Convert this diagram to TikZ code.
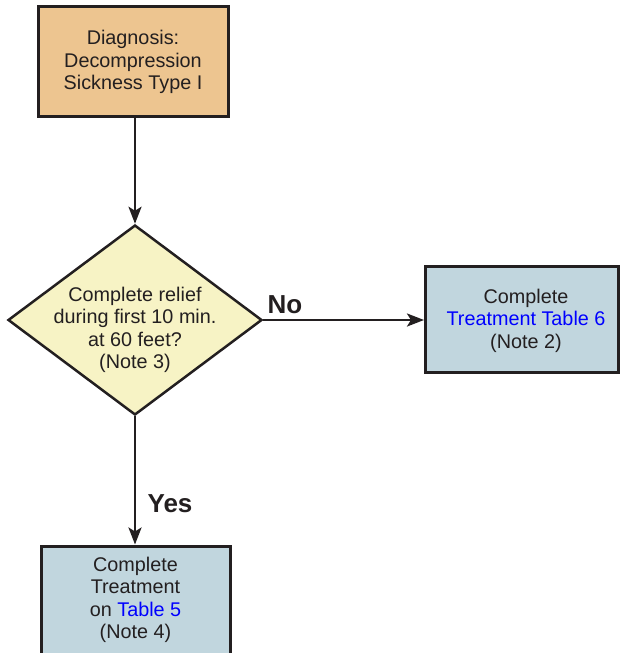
\documentclass[tikz,border=0pt]{standalone}
\usepackage{fontspec}
\setmainfont{Liberation Sans}
\usetikzlibrary{shapes.geometric,arrows.meta}
\definecolor{ink}{RGB}{35,31,32}
\definecolor{orangefill}{RGB}{237,197,144}
\definecolor{yellowfill}{RGB}{247,243,197}
\definecolor{bluefill}{RGB}{193,214,222}
\definecolor{linkblue}{RGB}{0,0,255}
\tikzset{
  txt/.style={font=\fontsize{19.8}{22.5}\selectfont, text=ink, align=center},
  boxnode/.style={draw=ink, line width=3pt, rectangle, inner sep=0pt},
  decision/.style={draw=ink, line width=2.5pt, diamond, inner sep=0pt, fill=yellowfill},
  flow/.style={draw=ink, line width=2.6pt, -{Stealth[length=17pt,width=13pt,inset=4pt]}},
  answer/.style={font=\fontsize{26}{30}\selectfont\bfseries, text=ink}
}
\begin{document}
\begin{tikzpicture}[x=1pt,y=-1pt]
\useasboundingbox (0,0) rectangle (621,653);
\clip (0,0) rectangle (621,653);
\node[boxnode, fill=orangefill, minimum width=190pt, minimum height=110pt] (diag) at (133,61) {};
\node[txt] (diagt) at (133,62) {Diagnosis:\\Decompression\\Sickness Type I};
\node[decision, minimum width=254pt, minimum height=190pt] (dec) at (135,320) {};
\node[txt] (dect) at (135,330) {Complete relief\\during first 10 min.\\at 60 feet?\\(Note 3)};
\node[boxnode, fill=bluefill, minimum width=193pt, minimum height=106pt] (t6) at (522,319.5) {};
\node[txt] (t6t) at (526,320.5) {Complete\\\textcolor{linkblue}{Treatment Table 6}\\(Note 2)};
\node[boxnode, fill=bluefill, minimum width=189pt, minimum height=140pt] (t5) at (136,616) {};
\node[txt] (t5t) at (135.5,600) {Complete\\Treatment\\on \textcolor{linkblue}{Table 5}\\(Note 4)};
\draw[flow] (diag.south -| dec.north) -- (dec.north);
\draw[flow] (dec.east) -- (t6.west |- dec.east);
\draw[flow] (dec.south) -- (t5.north -| dec.south);
\node[answer] (no) at (285,305) {No};
\node[answer] (yes) at (170,504) {Yes};
\end{tikzpicture}
\end{document}
